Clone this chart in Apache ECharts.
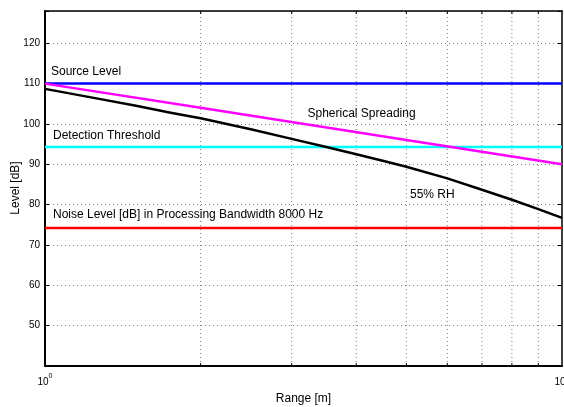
<!DOCTYPE html>
<html>
<head>
<meta charset="utf-8">
<script src="https://cdn.jsdelivr.net/npm/echarts@6/dist/echarts.min.js"></script>
<style>
html,body{margin:0;padding:0;background:#fff;}
#c{width:564px;height:407px;}
</style>
</head>
<body>
<div id="c"></div>
<script>
// ---- data ----
const rangeRH = [1, 1.25, 1.5, 1.75, 2, 2.5, 3, 3.5, 4, 4.5, 5, 6, 7, 8, 9, 10];
const levelRH55 = [108.7, 106.4, 104.5, 102.8, 101.4, 98.7, 96.3, 94.3, 92.5, 90.9, 89.4, 86.5, 83.7, 81.2, 78.9, 76.7];
const rangeSpherical = [1, 2, 5, 10];
const levelSpherical = [110, 104, 96, 90];
const rangeEnds = [1, 10];
const sourceLevel = 110;
const detectionThreshold = 94.3;
const noiseLevel = 74.2;
const xMinorTicks = [2, 3, 4, 5, 6, 7, 8, 9];
const yTickLabels = [50, 60, 70, 80, 90, 100, 110, 120];
const yAxisTitle = 'Level [dB]';
const xAxisTitle = 'Range [m]';
const annotations = [
  {text: 'Source Level', x: 51, y: 71.5},
  {text: 'Spherical Spreading', x: 307.5, y: 113.5},
  {text: 'Detection Threshold', x: 53, y: 135.5},
  {text: '55% RH', x: 410, y: 194.5},
  {text: 'Noise Level [dB] in Processing Bandwidth 8000 Hz', x: 53, y: 215}
];

const FONT = '"Liberation Sans", Arial, Helvetica, sans-serif';
const Y_MIN = 40, Y_MAX = 128;

const pairs = (xs, ys) => xs.map((x, i) => [x, ys[i]]);
const flat = (v) => rangeEnds.map(x => [x, v]);

const chart = echarts.init(document.getElementById('c'), null, {renderer: 'canvas'});

const lineSeries = (name, data, color, z) => ({
  name, type: 'line', data, symbol: 'none', smooth: false, z,
  lineStyle: {color, width: 2.5, join: 'round'}, animation: false, silent: true
});

const texts = annotations.map(a => ({
  type: 'text', x: a.x, y: a.y, z: 10, silent: true,
  style: {text: a.text, fontFamily: FONT, fontSize: 12, fill: '#000', verticalAlign: 'middle', align: 'left'}
}));
texts.push({
  type: 'text', x: 16, y: 188, rotation: Math.PI / 2, z: 10, silent: true,
  style: {text: yAxisTitle, fontFamily: FONT, fontSize: 12, fill: '#000', verticalAlign: 'middle', align: 'center'}
});

chart.setOption({
  animation: false,
  backgroundColor: '#fff',
  grid: {left: 45, right: 2, top: 11, bottom: 41, containLabel: false, outerBoundsMode: 'none'},
  xAxis: [
    {
      type: 'log', logBase: 10, min: 1, max: 10, position: 'bottom',
      name: xAxisTitle, nameLocation: 'middle', nameGap: 27,
      nameTextStyle: {fontFamily: FONT, fontSize: 12, color: '#000'},
      axisLine: {show: true, lineStyle: {color: '#000', width: 2}},
      axisTick: {show: false},
      splitLine: {show: false},
      axisLabel: {
        show: true, margin: 7, showMinLabel: true, showMaxLabel: true, hideOverlap: false,
        formatter: v => '{b|10}{s|' + Math.round(Math.log10(v)) + '}',
        rich: {
          b: {fontFamily: FONT, fontSize: 10, color: '#000', lineHeight: 14, verticalAlign: 'bottom'},
          s: {fontFamily: FONT, fontSize: 7, color: '#000', lineHeight: 14, verticalAlign: 'top'}
        }
      }
    },
    {
      type: 'log', logBase: 10, min: 1, max: 10, position: 'top',
      axisLine: {show: true, lineStyle: {color: '#000', width: 1.5}},
      axisTick: {show: false}, axisLabel: {show: false}, splitLine: {show: false}
    }
  ],
  yAxis: [
    {
      type: 'value', min: Y_MIN, max: Y_MAX, interval: 10, position: 'left',
      axisLine: {show: true, lineStyle: {color: '#000', width: 2}},
      axisTick: {show: true, inside: true, length: 4, lineStyle: {color: '#000'}},
      axisLabel: {
        fontFamily: FONT, fontSize: 10, color: '#000', margin: 5,
        formatter: v => yTickLabels.indexOf(v) >= 0 ? String(v) : ''
      },
      splitLine: {show: true, lineStyle: {color: '#7a7a7a', width: 1, type: [1, 3]}}
    },
    {
      type: 'value', min: Y_MIN, max: Y_MAX, interval: 10, position: 'right',
      axisLine: {show: true, lineStyle: {color: '#000', width: 1.5}},
      axisTick: {show: true, inside: true, length: 4, lineStyle: {color: '#000'}},
      axisLabel: {show: false}, splitLine: {show: false}
    }
  ],
  series: [
    {
      type: 'custom', z: 1, silent: true, animation: false,
      data: xMinorTicks.map(v => [v, Y_MIN]),
      renderItem: function (params, api) {
        const x = api.value(0);
        const b = api.coord([x, Y_MIN]);
        const t = api.coord([x, Y_MAX]);
        return {
          type: 'group', children: [
            {type: 'line', shape: {x1: b[0], y1: b[1], x2: t[0], y2: t[1]},
             style: {stroke: '#7a7a7a', lineWidth: 1, lineDash: [1, 3]}},
            {type: 'line', shape: {x1: b[0], y1: b[1], x2: b[0], y2: b[1] - 3},
             style: {stroke: '#000', lineWidth: 1}},
            {type: 'line', shape: {x1: t[0], y1: t[1], x2: t[0], y2: t[1] + 3},
             style: {stroke: '#000', lineWidth: 1}}
          ]
        };
      }
    },
    lineSeries('Source Level', flat(sourceLevel), '#0000ff', 3),
    lineSeries('Detection Threshold', flat(detectionThreshold), '#00ffff', 3),
    lineSeries('Noise Level', flat(noiseLevel), '#ff0000', 3),
    lineSeries('Spherical Spreading', pairs(rangeSpherical, levelSpherical), '#ff00ff', 4),
    lineSeries('55% RH', pairs(rangeRH, levelRH55), '#000000', 5)
  ],
  graphic: texts
});
</script>
</body>
</html>
